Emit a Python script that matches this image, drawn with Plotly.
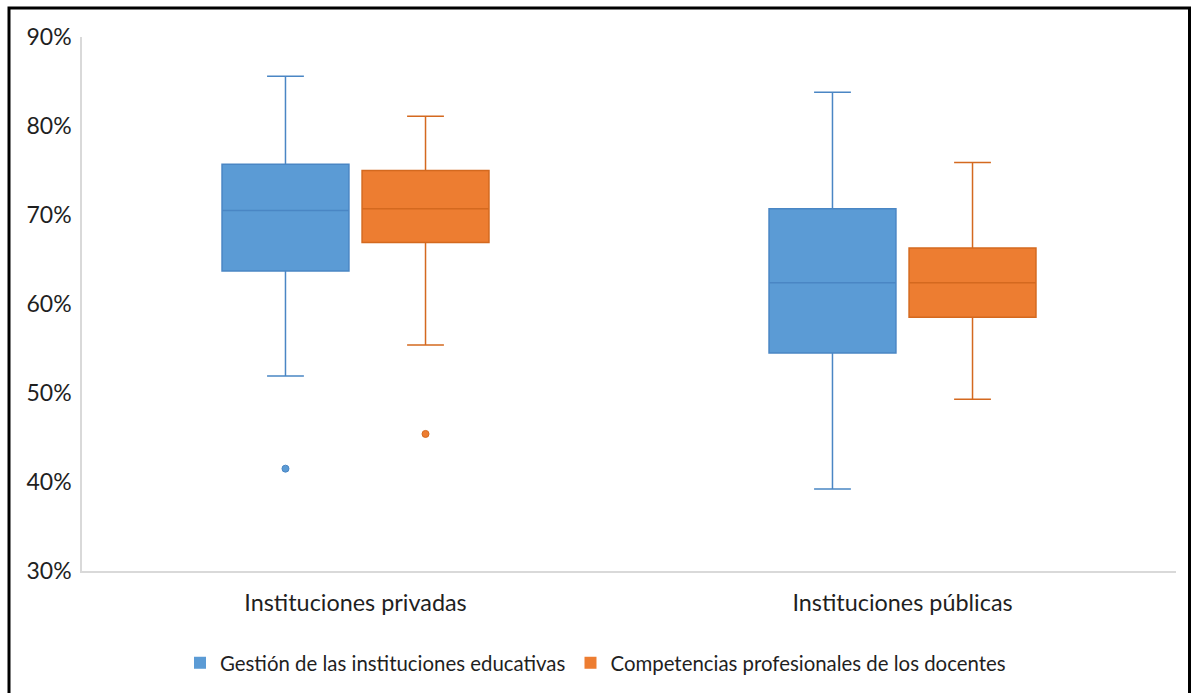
import plotly.graph_objects as go

# Groups on the x axis and the two indicators compared in each group
groups = ["Instituciones privadas", "Instituciones públicas"]
series_names = ["Gestión de las instituciones educativas",
                "Competencias profesionales de los docentes"]

# Five-number summaries per indicator (share, 0-1), one value per group
gestion_lower = [0.519, 0.392]
gestion_q1 = [0.637, 0.545]
gestion_median = [0.705, 0.624]
gestion_q3 = [0.757, 0.707]
gestion_upper = [0.856, 0.838]
gestion_outliers = [[0.415], []]

docentes_lower = [0.554, 0.493]
docentes_q1 = [0.669, 0.585]
docentes_median = [0.707, 0.624]
docentes_q3 = [0.750, 0.663]
docentes_upper = [0.811, 0.759]
docentes_outliers = [[0.454], []]

y_ticks = [0.3, 0.4, 0.5, 0.6, 0.7, 0.8, 0.9]

FONT = "Lato"
TEXT = "#1f1f1f"
BLUE_FILL, BLUE_LINE = "#5B9BD5", "#4A86C4"
ORANGE_FILL, ORANGE_LINE = "#ED7D31", "#D4691F"

W, H = 1191, 693
M_L, M_R, M_T, M_B = 82, 15, 37, 122
OFFSET = 0.128
BOX_W = 0.232

fig = go.Figure()

series = [
    (series_names[0], -OFFSET, BLUE_FILL, BLUE_LINE,
     gestion_lower, gestion_q1, gestion_median, gestion_q3, gestion_upper, gestion_outliers),
    (series_names[1], OFFSET, ORANGE_FILL, ORANGE_LINE,
     docentes_lower, docentes_q1, docentes_median, docentes_q3, docentes_upper, docentes_outliers),
]

for name, off, fill, line, lo, q1, med, q3, up, outs in series:
    for gi in range(len(groups)):
        fig.add_trace(go.Box(
            x=[gi + off], q1=[q1[gi]], median=[med[gi]], q3=[q3[gi]],
            lowerfence=[lo[gi]], upperfence=[up[gi]],
            width=BOX_W, whiskerwidth=0.29,
            fillcolor=fill, line=dict(color=line, width=1.5),
            showlegend=False, hoverinfo="skip", name=name,
        ))
        if outs[gi]:
            fig.add_trace(go.Scatter(
                x=[gi + off] * len(outs[gi]), y=outs[gi], mode="markers",
                marker=dict(color=fill, size=7, line=dict(color=line, width=1)),
                showlegend=False, hoverinfo="skip",
            ))
    # legend entry as a filled square
    fig.add_trace(go.Scatter(
        x=[None], y=[None], mode="markers", name=name,
        marker=dict(symbol="square", size=12, color=fill),
    ))

plot_w = W - M_L - M_R
plot_h = H - M_T - M_B

def px_x(px):
    return (px - M_L) / plot_w

def px_y(py):
    return (H - M_B - py) / plot_h

fig.update_layout(
    width=W, height=H, autosize=False,
    margin=dict(l=M_L, r=M_R, t=M_T, b=M_B, autoexpand=False),
    paper_bgcolor="white", plot_bgcolor="white",
    font=dict(family=FONT, color=TEXT),
    showlegend=True,
    legend=dict(orientation="h", x=0.5, xanchor="center", xref="container",
                y=1 - 663 / H, yanchor="middle", yref="container",
                font=dict(size=20.4, family=FONT, color=TEXT)),
    xaxis=dict(range=[-0.5, 1.5], tickvals=[0, 1], ticktext=groups,
               showgrid=False, zeroline=False, showline=True,
               linecolor="#D9D9D9", linewidth=1.5, ticks="", tickangle=0,
               automargin=False,
               tickfont=dict(size=23.4, family=FONT, color=TEXT),
               ticklabelstandoff=10),
    yaxis=dict(range=[0.3, 0.9], tickvals=y_ticks, tickformat=".0%",
               showgrid=False, zeroline=False, showline=True,
               linecolor="#D9D9D9", linewidth=1.5, ticks="",
               automargin=False,
               tickfont=dict(size=23, family=FONT, color=TEXT),
               ticklabelstandoff=4),
    shapes=[dict(type="rect", xref="paper", yref="paper",
                 x0=px_x(9), x1=px_x(1189.5), y0=px_y(8), y1=px_y(705),
                 line=dict(color="black", width=3), fillcolor="rgba(0,0,0,0)",
                 layer="above")],
)

fig.write_html("out.html")
